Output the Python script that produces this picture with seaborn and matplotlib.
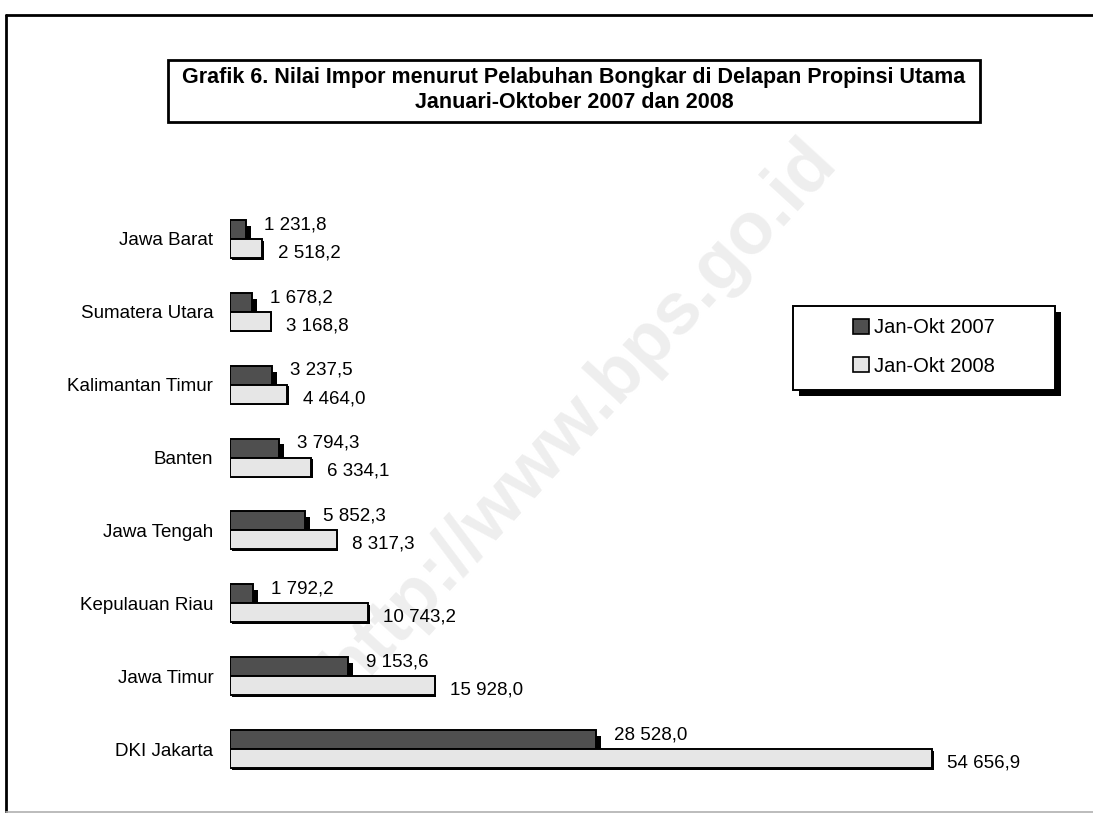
"""
Grafik 6 - Nilai Impor menurut Pelabuhan Bongkar, Jan-Okt 2007 dan 2008.
Horizontal grouped bars with drop shadows, boxed title and shadowed legend.
"""

import pandas as pd
import matplotlib
matplotlib.use("Agg")
import matplotlib.pyplot as plt
import matplotlib.patheffects as pe
from matplotlib.patches import Patch, Rectangle
from matplotlib.lines import Line2D
import seaborn as sns

# ── Data ───────────────────────────────────────────────────────────────────
provinces = ["Jawa Barat", "Sumatera Utara", "Kalimantan Timur", "Banten",
             "Jawa Tengah", "Kepulauan Riau", "Jawa Timur", "DKI Jakarta"]
val_2007 = [1231.8, 1678.2, 3237.5, 3794.3, 5852.3, 1792.2, 9153.6, 28528.0]
val_2008 = [2518.2, 3168.8, 4464.0, 6334.1, 8317.3, 10743.2, 15928.0, 54656.9]
series = ["Jan-Okt 2007", "Jan-Okt 2008"]
colors = ["#4f4f4f", "#e6e6e6"]

title = ("Grafik 6. Nilai Impor menurut Pelabuhan Bongkar di Delapan Propinsi Utama\n"
         "Januari-Oktober 2007 dan 2008")


def fmt(v):
    # 54656.9 -> "54 656,9"
    return f"{v:,.1f}".replace(",", " ").replace(".", ",")


def main():
    df = pd.DataFrame({
        "prov": provinces * 2,
        "val": val_2007 + val_2008,
        "series": [series[0]] * len(provinces) + [series[1]] * len(provinces),
    })

    sns.set_style("white")
    plt.rcParams["font.family"] = ["Liberation Sans", "DejaVu Sans"]
    plt.rcParams["text.color"] = "black"
    plt.rcParams["ytick.color"] = "black"

    W, H = 1093, 813
    fig = plt.figure(figsize=(W / 100, H / 100), dpi=100)

    # watermark behind everything
    fig.text(580 / W, 1 - 415 / H, "http://www.bps.go.id", rotation=47.5,
             ha="center", va="center", fontsize=53, fontweight="bold",
             color="#eeeeee", zorder=-5)

    # axes placed in pixel terms: x=0 at 230px, category centers 239..749px
    ax_left, ax_right = 230, 1052
    ax_top, ax_bot = 202.5, 785.5
    ax = fig.add_axes([ax_left / W, 1 - ax_bot / H,
                       (ax_right - ax_left) / W, (ax_bot - ax_top) / H])
    ax.patch.set_alpha(0)

    sns.barplot(data=df, y="prov", x="val", hue="series", order=provinces,
                hue_order=series, palette=colors, orient="h", width=0.52,
                edgecolor="black", linewidth=1.4, legend=False, ax=ax)

    n = len(provinces)
    shadow_07 = [pe.withSimplePatchShadow(offset=(3.6, -4.2), shadow_rgbFace="black", alpha=1.0)]
    shadow_08 = [pe.withSimplePatchShadow(offset=(1.2, -1.2), shadow_rgbFace="black", alpha=1.0)]
    for k, p in enumerate(ax.patches[:2 * n]):
        p.set_path_effects(shadow_07 if k < n else shadow_08)

    ax.set_xlim(0, 64000)
    ax.set_ylim(7.5, -0.5)
    ax.set_xlabel("")
    ax.set_ylabel("")
    ax.set_xticks([])
    ax.tick_params(axis="y", length=0, pad=12, labelsize=13.5)
    for s in ax.spines.values():
        s.set_visible(False)

    # value labels (2007 above, 2008 below the category center)
    for i, (a, b) in enumerate(zip(val_2007, val_2008)):
        ax.annotate(fmt(a), (a, i - 0.195), xytext=(13, 0), textcoords="offset points",
                    ha="left", va="center", fontsize=13.5)
        ax.annotate(fmt(b), (b, i + 0.19), xytext=(11, 0), textcoords="offset points",
                    ha="left", va="center", fontsize=13.5)

    # legend: hand-drawn box with hard black shadow, entries centered inside
    box = Rectangle((793 / W, 1 - 390 / H), (1055 - 793) / W, (390 - 306) / H,
                    transform=fig.transFigure, facecolor="white", edgecolor="black",
                    linewidth=1.4, zorder=3)
    box.set_path_effects([pe.withSimplePatchShadow(offset=(4, -4), shadow_rgbFace="black",
                                                   alpha=1.0)])
    fig.add_artist(box)
    handles = [Patch(facecolor=c, edgecolor="black", linewidth=1.2) for c in colors]
    leg = fig.legend(handles, series, loc="center",
                     bbox_to_anchor=(924 / W, 1 - 347 / H), bbox_transform=fig.transFigure,
                     frameon=False, fontsize=14.5, handlelength=0.75, handleheight=0.75,
                     handletextpad=0.25, labelspacing=0.95, borderpad=0, borderaxespad=0)
    leg.set_zorder(4)

    # title box
    fig.add_artist(Rectangle((168 / W, 1 - 122 / H), (980 - 168) / W, 62 / H,
                             transform=fig.transFigure, fill=False,
                             edgecolor="black", linewidth=2))
    fig.text(574 / W, 1 - 90 / H, title, ha="center", va="center", fontsize=15.5,
             fontweight="bold", linespacing=1.3)

    # outer frame (right side open, gray bottom rule)
    fig.add_artist(Line2D([6 / W, 6 / W], [0, 1 - 15 / H], transform=fig.transFigure,
                          color="black", linewidth=2))
    fig.add_artist(Line2D([6 / W, 1], [1 - 15 / H, 1 - 15 / H], transform=fig.transFigure,
                          color="black", linewidth=2))
    fig.add_artist(Line2D([6 / W, 1], [1.5 / H, 1.5 / H], transform=fig.transFigure,
                          color="#b0b0b0", linewidth=1.2))

    fig.savefig("out.png", dpi=100)
    plt.close(fig)


if __name__ == "__main__":
    main()
